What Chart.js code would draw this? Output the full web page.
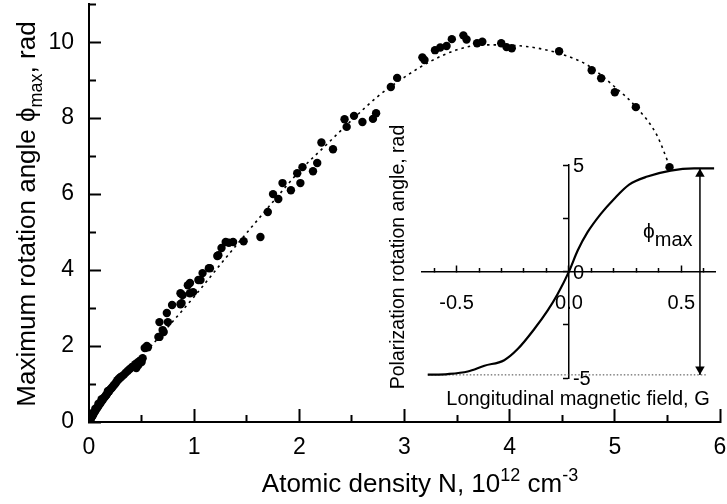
<!DOCTYPE html>
<html>
<head>
<meta charset="UTF-8">
<title>rotation angle chart</title>
<script src="https://cdn.jsdelivr.net/npm/chart.js@4.4.1/dist/chart.umd.min.js"></script>
<style>
  body { margin: 0; background: #fff; }
  #wrap { position: relative; width: 727px; height: 504px; }
  #main { position: absolute; left: 0; top: 0; width: 727px; height: 504px; }
  #inset { position: absolute; left: 380px; top: 100px; width: 347px; height: 330px; }
</style>
</head>
<body>
<div id="wrap">
  <div id="main"><canvas id="mainChart"></canvas></div>
  <div id="inset"><canvas id="insetChart"></canvas></div>
</div>
<script>
// measured points: atomic density N (1e12 cm^-3) and max rotation angle (rad)
var densityN = [
  0.005, 0.01, 0.015, 0.02, 0.03, 0.03, 0.035, 0.04, 0.05, 0.06, 0.06, 0.07, 0.08, 0.09, 0.09,
  0.10, 0.11, 0.12, 0.12, 0.13, 0.14, 0.15, 0.16, 0.17, 0.18, 0.18, 0.19, 0.20, 0.21, 0.22,
  0.23, 0.24, 0.25, 0.26, 0.27, 0.28, 0.29, 0.30, 0.31, 0.33, 0.35, 0.37, 0.39, 0.41, 0.43,
  0.44, 0.45, 0.46, 0.47, 0.48, 0.49, 0.50, 0.51,
  0.53, 0.55, 0.56, 0.66, 0.67, 0.70, 0.71, 0.67, 0.75, 0.74, 0.79, 0.87, 0.88, 0.89, 0.87,
  0.96, 0.99, 0.94, 0.96, 1.04, 1.06, 1.08, 1.14, 1.15, 1.22, 1.23, 1.26, 1.30, 1.33, 1.37,
  1.47, 1.63, 1.70, 1.75, 1.80, 1.84, 1.92, 1.98, 2.01, 2.03, 2.13, 2.17, 2.21, 2.32, 2.43,
  2.45, 2.52, 2.60, 2.70, 2.73, 2.87, 2.93, 3.17, 3.19, 3.29, 3.34, 3.40, 3.45, 3.56, 3.59,
  3.69, 3.74, 3.92, 3.97, 4.02, 4.47, 4.78, 4.87, 5.00, 5.20, 5.52
];
var phiMax = [
  0.03, 0.05, 0.08, 0.10, 0.15, 0.22, 0.17, 0.20, 0.25, 0.29, 0.35, 0.34, 0.38, 0.42, 0.48,
  0.47, 0.50, 0.55, 0.60, 0.58, 0.63, 0.66, 0.70, 0.73, 0.78, 0.82, 0.80, 0.85, 0.88, 0.91,
  0.95, 0.98, 1.01, 1.05, 1.10, 1.12, 1.15, 1.18, 1.20, 1.24, 1.30, 1.35, 1.40, 1.45, 1.47,
  1.52, 1.42, 1.56, 1.50, 1.60, 1.62, 1.58, 1.68,
  1.95, 2.00, 1.97, 2.24, 2.63, 2.42, 2.37, 2.24, 2.63, 2.87, 3.08, 3.10, 3.13, 3.34, 3.39,
  3.39, 3.42, 3.60, 3.66, 3.74, 3.74, 3.92, 4.05, 4.05, 4.37, 4.39, 4.58, 4.74, 4.72, 4.74,
  4.76, 4.87, 5.53, 6.00, 5.87, 6.29, 6.10, 6.55, 6.29, 6.71, 6.60, 6.82, 7.36, 7.18, 7.97,
  7.77, 8.06, 7.90, 7.98, 8.13, 8.82, 9.06, 9.60, 9.53, 9.79, 9.86, 9.90, 10.08, 10.18, 10.07,
  9.97, 10.01, 9.97, 9.87, 9.84, 9.76, 9.26, 9.05, 8.68, 8.29, 6.71
];
// dotted fit through the points
var fitN   = [0, 0.1, 0.25, 0.5, 0.75, 1.0, 1.25, 1.5, 1.75, 2.0, 2.25, 2.5, 2.75, 3.0, 3.25, 3.5, 3.75, 4.0, 4.25, 4.5, 4.75, 5.0, 5.2, 5.4, 5.52];
var fitPhi = [0, 0.45, 1.0, 1.72, 2.5, 3.3, 4.15, 4.98, 5.8, 6.6, 7.28, 7.95, 8.58, 9.08, 9.5, 9.8, 9.93, 9.92, 9.85, 9.68, 9.38, 8.82, 8.3, 7.55, 6.74];

// inset: polarization rotation angle vs longitudinal field
var fieldB   = [-0.628, -0.539, -0.45, -0.376, -0.288, -0.228, -0.154, -0.095, -0.05, 0, 0.039, 0.083, 0.142, 0.201, 0.268, 0.349, 0.453, 0.557, 0.646];
var rotAngle = [-4.83, -4.80, -4.68, -4.41, -4.15, -3.63, -2.69, -1.83, -1.05, 0, 0.99, 1.85, 2.71, 3.41, 4.08, 4.46, 4.74, 4.84, 4.84];
var levelB   = [-0.628, 0.61];     // dotted saturation level
var levelAng = [-4.84, -4.84];
var arrowB   = [0.583, 0.583];     // phi_max arrow
var arrowAng = [-4.84, 4.84];
var headAng  = [4.58, -4.58];
var headRot  = [0, 180];

// tick labels
var mainXTicks = [0, 1, 2, 3, 4, 5, 6];
var mainYTicks = [0, 2, 4, 6, 8, 10];
var insetXTicks = [-0.5, 0, 0.5];
var insetXLabels = ['-0.5', '0.0', '0.5'];
var insetYTicks = [5, 0, -5];
var insetYLabels = ['5', '0', '-5'];

var FONT = "'Liberation Sans', Arial, sans-serif";
Chart.defaults.font.family = FONT;
Chart.defaults.color = '#000';

function zip(xs, ys) {
  var out = [];
  for (var i = 0; i < xs.length; i++) out.push({x: xs[i], y: ys[i]});
  return out;
}
function findTick(list, v) {
  for (var i = 0; i < list.length; i++) if (Math.abs(list[i] - v) < 1e-6) return i;
  return -1;
}
function noPad(s) { s.paddingLeft = s.paddingRight = s.paddingTop = s.paddingBottom = 0; }

// text with sub/superscripts; parts = [text, size, baseline shift]
function richText(ctx, parts, x, y, rotate, align) {
  ctx.save();
  ctx.translate(x, y);
  if (rotate) ctx.rotate(-Math.PI / 2);
  ctx.fillStyle = '#000';
  ctx.textBaseline = 'alphabetic';
  ctx.textAlign = 'left';
  var total = 0, w = [];
  parts.forEach(function(p, i) {
    ctx.font = p[1] + 'px ' + FONT;
    w[i] = ctx.measureText(p[0]).width;
    total += w[i];
  });
  var cx = align === 'left' ? 0 : -total / 2;
  parts.forEach(function(p, i) {
    ctx.font = p[1] + 'px ' + FONT;
    ctx.fillText(p[0], cx, p[2]);
    cx += w[i];
  });
  ctx.restore();
}

var mainTitles = {
  id: 'mainTitles',
  afterDraw: function(chart) {
    var ctx = chart.ctx;
    richText(ctx, [['Atomic density N, 10', 26, 0], ['12', 18, -11], [' cm', 26, 0], ['-3', 18, -11]], 420, 492);
    richText(ctx, [['Maximum rotation angle ', 26, 0], ['\u03d5', 26, 0], ['max', 18, 7], [', rad', 26, 0]], 35, 214, true);
  }
};

var insetText = {
  id: 'insetText',
  afterDraw: function(chart) {
    var ctx = chart.ctx, xs = chart.scales.x, ys = chart.scales.y;
    var x0 = xs.getPixelForValue(0);
    ctx.save();
    ctx.font = '20px ' + FONT;
    ctx.fillStyle = '#000';
    ctx.textAlign = 'left';
    ctx.textBaseline = 'middle';
    insetYTicks.forEach(function(v, i) {
      ctx.fillText(insetYLabels[i], x0 + 4, ys.getPixelForValue(v) + 1.5);
    });
    ctx.restore();
    richText(ctx, [['\u03d5', 21, 0], ['max', 20, 8]], xs.getPixelForValue(0.33), ys.getPixelForValue(1.6), false, 'left');
    richText(ctx, [['Longitudinal magnetic field, G', 20, 0]], 198, 305);
    richText(ctx, [['Polarization rotation angle, rad', 19.5, 0]], 24, 157, true);
  }
};

new Chart(document.getElementById('mainChart'), {
  data: {
    datasets: [{
      type: 'line',
      data: zip(fitN, fitPhi),
      borderColor: '#000',
      borderWidth: 1.6,
      borderDash: [2.5, 4],
      pointRadius: 0,
      cubicInterpolationMode: 'monotone',
      order: 2
    }, {
      type: 'scatter',
      data: zip(densityN, phiMax),
      pointBackgroundColor: '#000',
      pointBorderWidth: 0,
      pointRadius: 4.2,
      order: 1
    }]
  },
  options: {
    responsive: true,
    maintainAspectRatio: false,
    animation: false,
    layout: { padding: { left: 0, top: 3, right: 7, bottom: 0 } },
    plugins: { legend: { display: false }, tooltip: { enabled: false } },
    scales: {
      x: {
        type: 'linear', position: 'bottom', min: 0, max: 6,
        ticks: {
          stepSize: 0.5, padding: 25, autoSkip: false, maxRotation: 0, font: { size: 23 },
          callback: function(v) { return findTick(mainXTicks, v) >= 0 ? String(v) : ''; }
        },
        grid: {
          drawOnChartArea: false, tickLength: -13, tickWidth: 2, tickColor: '#000',
          tickBorderDash: function(c) { return findTick(mainXTicks, c.tick.value) >= 0 ? [] : [8, 40]; }
        },
        border: { color: '#000', width: 2 },
        afterFit: function(s) { s.height = 82; noPad(s); }
      },
      y: {
        type: 'linear', position: 'left', min: 0, max: 11,
        ticks: {
          stepSize: 1, padding: 27, autoSkip: false, font: { size: 23 },
          callback: function(v) { return findTick(mainYTicks, v) >= 0 ? String(v) : ''; }
        },
        grid: {
          drawOnChartArea: false, tickLength: -12, tickWidth: 2, tickColor: '#000',
          // y ticks are stroked from the inner end, so short ones start with a gap
          tickBorderDash: function(c) { return findTick(mainYTicks, c.tick.value) >= 0 ? [] : [0, 5, 8, 40]; }
        },
        border: { color: '#000', width: 2 },
        afterFit: function(s) { s.width = 89; noPad(s); }
      }
    }
  },
  plugins: [mainTitles]
});

new Chart(document.getElementById('insetChart'), {
  data: {
    datasets: [{
      type: 'line',
      data: zip(fieldB, rotAngle),
      borderColor: '#000',
      borderWidth: 2.2,
      pointRadius: 0,
      cubicInterpolationMode: 'monotone'
    }, {
      type: 'line',
      data: zip(levelB, levelAng),
      borderColor: '#444',
      borderWidth: 1,
      borderDash: [1.5, 2],
      pointRadius: 0
    }, {
      type: 'line',
      data: zip(arrowB, arrowAng),
      borderColor: '#000',
      borderWidth: 1.5,
      pointRadius: 0
    }, {
      type: 'scatter',
      data: zip(arrowB, headAng),
      pointStyle: 'triangle',
      pointRotation: headRot,
      pointRadius: 5.5,
      pointBackgroundColor: '#000',
      pointBorderWidth: 0
    }]
  },
  options: {
    responsive: true,
    maintainAspectRatio: false,
    animation: false,
    layout: { padding: { left: 41.7, top: 65, right: 12, bottom: 51.7 } },
    plugins: { legend: { display: false }, tooltip: { enabled: false } },
    scales: {
      x: {
        type: 'linear', position: { y: 0 }, min: -0.655, max: 0.65,
        ticks: {
          stepSize: 0.1, includeBounds: false, padding: 27, autoSkip: false, maxRotation: 0, font: { size: 20 },
          callback: function(v) { var i = findTick(insetXTicks, v); return i >= 0 ? insetXLabels[i] : ''; }
        },
        grid: {
          drawOnChartArea: false, tickLength: -7, tickWidth: 1.5, tickColor: '#000',
          tickBorderDash: function(c) { return findTick(insetXTicks, c.tick.value) >= 0 ? [] : [4.5, 30]; }
        },
        border: { color: '#000', width: 1.5 },
        afterFit: noPad
      },
      y: {
        type: 'linear', position: { x: 0 }, min: -5, max: 5,
        ticks: { stepSize: 2.5, display: false },
        grid: { drawOnChartArea: false, tickLength: 5, tickWidth: 1.5, tickColor: '#000' },
        border: { color: '#000', width: 1.5 },
        afterFit: noPad
      }
    }
  },
  plugins: [insetText]
});
</script>
</body>
</html>
